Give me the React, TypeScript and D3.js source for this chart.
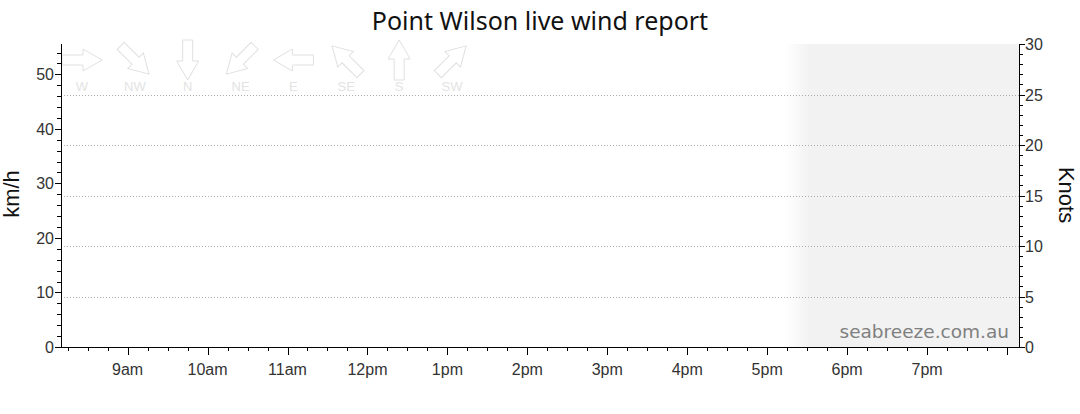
import React from "react";
import * as d3 from "d3";

// ---- data ----
const titleText = "Point Wilson live wind report";
const leftAxisLabel = "km/h";
const rightAxisLabel = "Knots";
const watermark = "seabreeze.com.au";

const directionLabels = ["W", "NW", "N", "NE", "E", "SE", "S", "SW"];
const directionBearings = [270, 315, 0, 45, 90, 135, 180, 225];

const hourTicks = [9, 10, 11, 12, 13, 14, 15, 16, 17, 18, 19, 20];
const hourLabels = ["9am", "10am", "11am", "12pm", "1pm", "2pm", "3pm", "4pm", "5pm", "6pm", "7pm", ""];

const kmhMajorTicks = [0, 10, 20, 30, 40, 50];
const knotMajorTicks = [0, 5, 10, 15, 20, 25, 30];
const knotGridLines = [5, 10, 15, 20, 25];

const maxKnots = 30;
const KMH_PER_KNOT = 1.852;

// time window (minutes after midnight)
const windowStartMin = 8 * 60 + 10;
const windowEndMin = 20 * 60 + 9;
const nightFadeStartMin = 17 * 60 + 13;
const nightFadeEndMin = 17 * 60 + 32;

const day = (m: number) => new Date(2024, 0, 1, 0, m);

export default function App() {
  const W = 1080;
  const H = 414;
  const left = 61;
  const right = 1019;
  const top = 44;
  const bottom = 347;

  const x = d3.scaleTime().domain([day(windowStartMin), day(windowEndMin)]).range([left, right]);
  const yKnots = d3.scaleLinear().domain([0, maxKnots]).range([bottom, top]);
  const yKmh = d3.scaleLinear().domain([0, maxKnots * KMH_PER_KNOT]).range([bottom, top]);

  const kmhMinor = d3.range(0, maxKnots * KMH_PER_KNOT, 2);
  const knotMinor = d3.range(0, maxKnots + 1, 1);
  const quarterTicks = d3.timeMinute
    .every(15)!
    .range(day(windowStartMin), day(windowEndMin));

  const dirX = d3.scalePoint<string>().domain(directionLabels).range([82, 452]);
  const arrowPath = "M-20,-5 L1,-5 L1,-11 L20,0 L1,11 L1,5 L-20,5 Z";

  const font = "'Liberation Sans', Arial, sans-serif";
  const tickColor = "#333";

  return (
    <svg
      width={W}
      height={H}
      style={{ position: "absolute", left: 0, top: 0, background: "#fff" }}
      fontFamily={font}
    >
      <defs>
        <linearGradient
          id="nightFade"
          gradientUnits="userSpaceOnUse"
          x1={x(day(nightFadeStartMin))}
          x2={x(day(nightFadeEndMin))}
          y1={0}
          y2={0}
        >
          <stop offset="0" stopColor="#ffffff" />
          <stop offset="1" stopColor="#f2f2f2" />
        </linearGradient>
      </defs>

      {/* night shading */}
      <rect
        x={x(day(nightFadeStartMin))}
        y={top}
        width={right - x(day(nightFadeStartMin))}
        height={bottom - top}
        fill="url(#nightFade)"
      />

      {/* grid lines */}
      {knotGridLines.map((k) => (
        <line
          key={"g" + k}
          x1={left}
          x2={right}
          y1={Math.round(yKnots(k)) + 0.5}
          y2={Math.round(yKnots(k)) + 0.5}
          stroke="#aaa"
          strokeDasharray="1 2"
        />
      ))}

      {/* direction arrows */}
      {directionLabels.map((d, i) => {
        const cx = dirX(d)!;
        const rot = directionBearings[i] + 180 - 90;
        return (
          <g key={d}>
            <path
              d={arrowPath}
              transform={`translate(${cx},60) rotate(${rot})`}
              fill="none"
              stroke="#e0e0e0"
              strokeWidth={1}
            />
            <text x={cx} y={91} textAnchor="middle" fontSize={13} fill="#e3e3e3">
              {d}
            </text>
          </g>
        );
      })}

      {/* watermark */}
      <text
        x={1009}
        y={338}
        textAnchor="end"
        fontSize={18.5}
        fontFamily="'DejaVu Sans', Verdana, sans-serif"
        fill="#808080"
      >
        {watermark}
      </text>

      {/* left axis */}
      <line x1={left + 0.5} x2={left + 0.5} y1={top} y2={bottom} stroke="#000" />
      {kmhMinor.map((v) => (
        <line
          key={"lm" + v}
          x1={left - 4}
          x2={left}
          y1={Math.round(yKmh(v)) + 0.5}
          y2={Math.round(yKmh(v)) + 0.5}
          stroke="#000"
        />
      ))}
      {kmhMajorTicks.map((v) => (
        <g key={"lM" + v}>
          <line
            x1={left - 6}
            x2={left}
            y1={Math.round(yKmh(v)) + 0.5}
            y2={Math.round(yKmh(v)) + 0.5}
            stroke="#000"
          />
          <text x={54} y={yKmh(v) + 6} textAnchor="end" fontSize={16} fill={tickColor}>
            {v}
          </text>
        </g>
      ))}
      <text
        transform={`translate(19,194) rotate(-90)`}
        textAnchor="middle"
        fontSize={22}
        fill="#111"
      >
        {leftAxisLabel}
      </text>

      {/* right axis */}
      <line x1={right + 0.5} x2={right + 0.5} y1={top} y2={bottom} stroke="#000" />
      {knotMinor.map((v) => (
        <line
          key={"rm" + v}
          x1={right}
          x2={right + 4}
          y1={Math.round(yKnots(v)) + 0.5}
          y2={Math.round(yKnots(v)) + 0.5}
          stroke="#000"
        />
      ))}
      {knotMajorTicks.map((v) => (
        <g key={"rM" + v}>
          <line
            x1={right}
            x2={right + 6}
            y1={Math.round(yKnots(v)) + 0.5}
            y2={Math.round(yKnots(v)) + 0.5}
            stroke="#000"
          />
          <text x={1025} y={yKnots(v) + 6} textAnchor="start" fontSize={16} fill={tickColor}>
            {v}
          </text>
        </g>
      ))}
      <text
        transform={`translate(1059,195) rotate(90)`}
        textAnchor="middle"
        fontSize={22}
        fill="#111"
      >
        {rightAxisLabel}
      </text>

      {/* bottom axis */}
      <line x1={left} x2={right + 1} y1={bottom + 0.5} y2={bottom + 0.5} stroke="#000" />
      {quarterTicks.map((t) => (
        <line
          key={"bm" + t.getTime()}
          x1={Math.round(x(t)) + 0.5}
          x2={Math.round(x(t)) + 0.5}
          y1={bottom}
          y2={bottom + 4}
          stroke="#000"
        />
      ))}
      {hourTicks.map((h, i) => (
        <g key={"bM" + h}>
          <line
            x1={Math.round(x(day(h * 60))) + 0.5}
            x2={Math.round(x(day(h * 60))) + 0.5}
            y1={bottom}
            y2={bottom + 8}
            stroke="#000"
          />
          <text x={x(day(h * 60))} y={375} textAnchor="middle" fontSize={16} fill={tickColor}>
            {hourLabels[i]}
          </text>
        </g>
      ))}

      {/* title */}
      <text
        x={540}
        y={30}
        textAnchor="middle"
        fontSize={25}
        fontFamily="'Noto Sans', 'Open Sans', sans-serif"
        fill="#111"
      >
        {titleText}
      </text>
    </svg>
  );
}
